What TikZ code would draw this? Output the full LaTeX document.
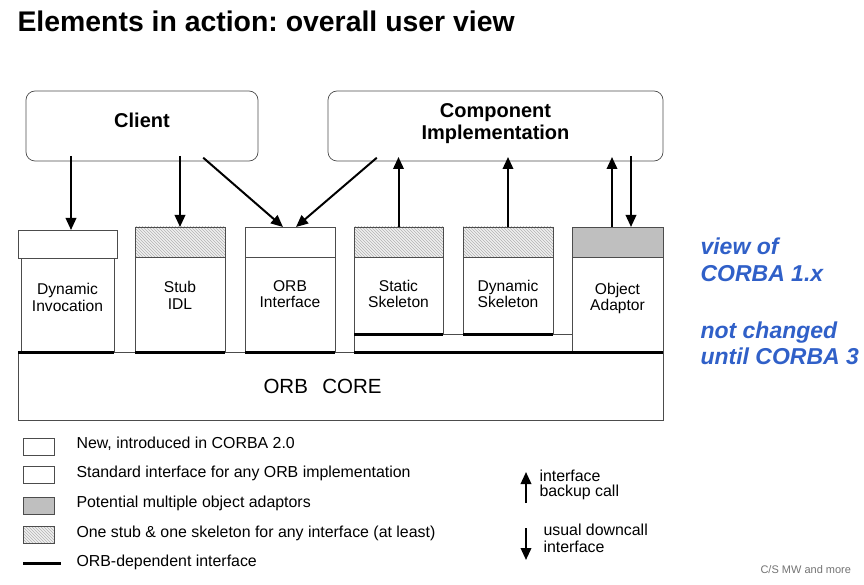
\documentclass[tikz,border=0pt]{standalone}
\usepackage{fontspec}
\setmainfont{Liberation Sans}
\usetikzlibrary{arrows.meta,patterns}
\definecolor{noteblue}{RGB}{48,96,200}
\frenchspacing

\begin{document}
\begin{tikzpicture}[x=1pt,y=-1pt,>={Triangle[length=12pt,width=10.5pt]},
  box/.style={draw=black!70,line width=0.7pt,inner sep=0pt,outer sep=0pt},
  actor/.style={box,rounded corners=9pt,align=center,font=\bfseries\fontsize{20}{22.5}\selectfont},
  part/.style={box,align=center,text depth=15pt,font=\fontsize{15.6}{16.5}\selectfont},
  hatched/.style={box,preaction={fill=gray!12},pattern=north west lines,pattern color=gray!60},
  multi/.style={box,fill=gray!50},
  orbline/.style={line width=3pt},
  down/.style={->,line width=2pt,shorten <=-5pt},
  up/.style={->,line width=2pt,shorten >=-4pt},
  legend/.style={anchor=base west,font=\fontsize{15.9}{17}\selectfont}]
  \useasboundingbox (0,0) rectangle (864,585);
  \node[anchor=base west,font=\bfseries\fontsize{28.4}{31}\selectfont] (title) at (14,32) {Elements in action: overall user view};

  % users of the ORB
  \node[actor,minimum width=232pt,minimum height=70pt,text depth=12pt] (client) at (142,126) {Client};
  \node[actor,minimum width=335pt,minimum height=70pt,text depth=9pt] (comp) at (495.5,126) {Component\\Implementation};

  % columns
  \node[box,minimum width=99pt,minimum height=28pt] (dii tab) at (67.5,244) {};
  \node[part,minimum width=93pt,minimum height=94pt] (dii) at (67.5,305) {Dynamic\\Invocation};
  \node[hatched,minimum width=90pt,minimum height=30pt] (stub tab) at (180,242) {};
  \node[part,minimum width=90pt,minimum height=95pt,text depth=18pt] (stub) at (180,304.5) {Stub\\IDL};
  \node[box,minimum width=90pt,minimum height=30pt] (orbi tab) at (290,242) {};
  \node[part,minimum width=90pt,minimum height=95pt,text depth=21pt] (orbi) at (290,304.5) {ORB\\Interface};
  \node[hatched,minimum width=89pt,minimum height=30pt] (sskel tab) at (398.5,242) {};
  \node[part,minimum width=89pt,minimum height=77pt,text depth=3pt] (sskel) at (398.5,295.5) {Static\\Skeleton};
  \node[hatched,minimum width=90pt,minimum height=30pt] (dskel tab) at (508,242) {};
  \node[part,minimum width=90pt,minimum height=77pt,text depth=3pt] (dskel) at (508,295.5) {Dynamic\\Skeleton};
  \node[multi,minimum width=91pt,minimum height=30pt] (oa tab) at (617.5,242) {};
  \node[part,minimum width=91pt,minimum height=95pt,text depth=15pt] (oa) at (617.5,304.5) {Object\\Adaptor};

  \node[box,minimum width=645pt,minimum height=68pt] (core) at (340.5,386) {};
  \node[font=\fontsize{20.5}{24}\selectfont] (core label) at ([xshift=-18pt]core.center) {ORB\hspace{0.7em}CORE};

  \draw[black!70,line width=0.7pt] (sskel.south west) -- (sskel.south west |- core.north);
  \draw[black!70,line width=0.7pt] (sskel.south east) -- (dskel.south west);
  \draw[black!70,line width=0.7pt] (dskel.south east) -- (dskel.south east -| oa.west);
  \draw[orbline] (core.north west) -- (core.north west -| dii.south east);
  \draw[orbline] (stub.south west) -- (stub.south east);
  \draw[orbline] (orbi.south west) -- (orbi.south east);
  \draw[orbline] (sskel.south west |- core.north) -- (core.north east);
  \draw[orbline] (sskel.south west) -- (sskel.south east);
  \draw[orbline] (dskel.south west) -- (dskel.south east);

  % calls
  \draw[down] ([xshift=3.5pt]client.south -| dii tab.north) -- ([xshift=3.5pt]dii tab.north);
  \draw[down] (client.south -| stub tab.north) -- (stub tab.north);
  \draw[down] ([xshift=65pt]client.south) -- ([xshift=-7pt]orbi tab.north);
  \draw[down] ([xshift=-122.5pt]comp.south) -- ([xshift=6pt]orbi tab.north);
  \draw[up] (sskel tab.north) -- (sskel tab.north |- comp.south);
  \draw[up] (dskel tab.north) -- (dskel tab.north |- comp.south);
  \draw[up] ([xshift=-5.5pt]oa tab.north) -- ([xshift=-5.5pt]oa tab.north |- comp.south);
  \draw[down] ([xshift=13.5pt]oa tab.north |- comp.south) -- ([xshift=13.5pt]oa tab.north);

  % side note
  \node[anchor=base west,align=left,text=noteblue,font=\bfseries\itshape\fontsize{23}{27}\selectfont] (note1) at (697,281) {view of\\CORBA 1.x};
  \node[anchor=base west,align=left,text=noteblue,font=\bfseries\itshape\fontsize{23}{26}\selectfont] (note2) at (697,364) {not changed\\until CORBA 3};

  % legend
  \node[box,minimum width=31pt,minimum height=17pt] (key new) at (38.5,446.5) {};
  \node[box,minimum width=31pt,minimum height=17pt] (key std) at (38.5,475) {};
  \node[multi,minimum width=31pt,minimum height=17pt] (key oa) at (38.5,505.5) {};
  \node[hatched,minimum width=31pt,minimum height=17pt] (key stub) at (38.5,535) {};
  \draw[orbline] (23,563) -- (61,563);
  \node[legend] (txt new) at (73,448) {New, introduced in CORBA 2.0};
  \node[legend] (txt std) at (73,477) {Standard interface for any ORB implementation};
  \node[legend] (txt oa) at (73,507) {Potential multiple object adaptors};
  \node[legend] (txt stub) at (73,537) {One stub \& one skeleton for any interface (at least)};
  \node[legend] (txt orb) at (73,566) {ORB-dependent interface};

  \draw[->,line width=2pt] (526,503) -- (526,472);
  \node[legend,align=left,font=\fontsize{15.9}{15}\selectfont] (txt up) at (536,496) {interface\\backup call};
  \draw[->,line width=2pt] (526,528) -- (526,560);
  \node[legend,align=left,font=\fontsize{15.9}{17}\selectfont] (txt down) at (540,552) {usual downcall\\interface};

  \node[anchor=base west,text=black!55,font=\fontsize{11}{13}\selectfont] (footer) at (757,573) {C/S MW and more};
\end{tikzpicture}
\end{document}
